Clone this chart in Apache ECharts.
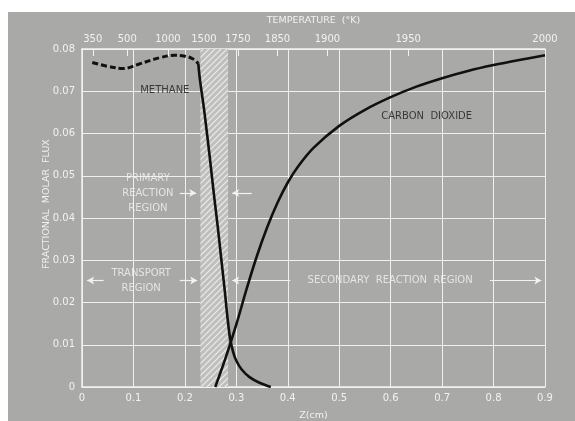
<!DOCTYPE html>
<html><head><meta charset="utf-8">
<script src="https://cdn.jsdelivr.net/npm/echarts@6/dist/echarts.min.js"></script>
<style>html,body{margin:0;padding:0;background:#fff}#c{width:575px;height:421px}</style>
</head><body><div id="c"></div>
<script>
// ---- data ----
const tempLabels = [350, 500, 1000, 1500, 1750, 1850, 1900, 1950, 2000];
const tempPos    = [0.021, 0.088, 0.167, 0.237, 0.303, 0.380, 0.477, 0.634, 0.900];
const methaneDashed = [[0.02,0.0768],[0.05,0.0759],[0.08,0.0754],[0.11,0.0764],[0.15,0.0779],[0.18,0.0785],[0.20,0.0783],[0.215,0.0777],[0.226,0.0766]];
const methaneSolid  = [[0.226,0.0766],[0.229,0.0730],[0.238,0.0650],[0.249,0.0537],[0.256,0.0460],[0.264,0.0378],[0.271,0.0300],[0.278,0.0222],[0.283,0.0162],[0.288,0.0114],[0.294,0.0082],[0.300,0.0062],[0.310,0.0042],[0.325,0.0024],[0.345,0.0010],[0.367,0.0]];
const co2 = [[0.259,0.0],[0.28,0.0072],[0.30,0.0148],[0.32,0.0232],[0.34,0.0310],[0.36,0.0378],[0.38,0.0436],[0.40,0.0484],[0.42,0.0522],[0.45,0.0566],[0.50,0.0618],[0.55,0.0656],[0.60,0.0686],[0.65,0.0711],[0.70,0.0731],[0.75,0.0748],[0.80,0.0762],[0.85,0.0774],[0.90,0.0785]];
const hatchRange = [0.230, 0.284];
// annotation texts: [text, x, y, colour]
const annotTexts = [
  ['METHANE', 0.161, 0.0702, '#1a1a1a'],
  ['CARBON  DIOXIDE', 0.67, 0.0640, '#1a1a1a'],
  ['PRIMARY\nREACTION\nREGION', 0.128, 0.0459, '#f4f4f4'],
  ['TRANSPORT\nREGION', 0.115, 0.0250, '#f4f4f4'],
  ['SECONDARY  REACTION  REGION', 0.599, 0.0252, '#f4f4f4']
];
// arrows: [fromX, toX, y]  (arrowhead at toX)
const annotArrows = [
  [0.190, 0.222, 0.0459],
  [0.330, 0.292, 0.0459],
  [0.042, 0.010, 0.0252],
  [0.190, 0.224, 0.0252],
  [0.405, 0.292, 0.0252],
  [0.793, 0.893, 0.0252]
];

// ---- hatch pattern ----
const pc = document.createElement('canvas');
pc.width = 6; pc.height = 6;
const g = pc.getContext('2d');
g.fillStyle = '#bfbfbd'; g.fillRect(0,0,6,6);
g.strokeStyle = '#ececec'; g.lineWidth = 1.2;
g.beginPath(); g.moveTo(0,6); g.lineTo(6,0); g.moveTo(-3,3); g.lineTo(3,-3); g.moveTo(3,9); g.lineTo(9,3); g.stroke();

const white = '#f2f2f2';
const font = '"DejaVu Sans", sans-serif';
const chart = echarts.init(document.getElementById('c'));
chart.setOption({
  animation: false,
  backgroundColor: '#ffffff',
  graphic: [
    {type:'rect', z:-100, silent:true, shape:{x:8,y:12,width:567,height:409}, style:{fill:'#a9a9a7'}},
    {type:'text', z:10, silent:true, x:47, y:204, rotation:Math.PI/2,
     style:{text:'FRACTIONAL  MOLAR  FLUX', fill:white, font:'9.5px '+font, textAlign:'center', textVerticalAlign:'middle'}}
  ],
  grid: {left:82, right:30, top:49, bottom:34, containLabel:false, outerBoundsMode:'none'},
  xAxis: [
    {type:'value', min:0, max:0.9, interval:0.1, position:'bottom',
     name:'Z(cm)', nameLocation:'middle', nameGap:24,
     nameTextStyle:{color:white, fontSize:9.5, fontFamily:font},
     axisLine:{show:true, lineStyle:{color:white, width:1.5}},
     axisTick:{show:false},
     axisLabel:{color:white, fontSize:10, fontFamily:font, margin:6},
     splitLine:{show:true, lineStyle:{color:'#f0f0f0', width:1}}},
    {type:'value', min:0, max:0.9, position:'top',
     name:'TEMPERATURE  (°K)', nameLocation:'middle', nameGap:23,
     nameTextStyle:{color:white, fontSize:9.5, fontFamily:font},
     axisLine:{show:true, lineStyle:{color:white, width:1.5}},
     axisTick:{show:true, inside:true, length:7, customValues:tempPos, lineStyle:{color:white, width:1}},
     axisLabel:{color:white, fontSize:10, fontFamily:font, margin:5, customValues:tempPos,
       formatter: v => { let bi=0; tempPos.forEach((p,i)=>{ if(Math.abs(p-v)<Math.abs(tempPos[bi]-v)) bi=i; }); return String(tempLabels[bi]); }},
     splitLine:{show:false}}
  ],
  yAxis: {type:'value', min:0, max:0.08, interval:0.01,
    axisLine:{show:true, lineStyle:{color:white, width:1.5}},
    axisTick:{show:false},
    axisLabel:{color:white, fontSize:10, fontFamily:font, margin:7},
    splitLine:{show:true, lineStyle:{color:'#f0f0f0', width:1}}},
  series: [
    {type:'line', data:[], markArea:{silent:true, itemStyle:{color:{image:pc, repeat:'repeat'}},
      data:[[{xAxis:hatchRange[0], yAxis:0},{xAxis:hatchRange[1], yAxis:0.08}]]}},
    {type:'line', data:methaneDashed, smooth:0.4, symbol:'none', z:5,
     lineStyle:{color:'#111', width:3, type:[6,3]}},
    {type:'line', data:methaneSolid, smooth:0.3, symbol:'none', z:5,
     lineStyle:{color:'#111', width:2.6}},
    {type:'line', data:co2, smooth:0.3, symbol:'none', z:5,
     lineStyle:{color:'#111', width:2.6}},
    {type:'scatter', symbolSize:0, z:6,
     data: annotTexts.map(t => ({value:[t[1],t[2]], label:{show:true, formatter:t[0], color:t[3], fontSize:10, fontFamily:font, lineHeight:15, align:'center', verticalAlign:'middle', position:'inside'}})),
     markLine:{silent:true, symbol:['none','arrow'], symbolSize:[6,7], label:{show:false},
       lineStyle:{color:white, width:1.2, type:'solid'},
       data: annotArrows.map(a => [{coord:[a[0],a[2]]},{coord:[a[1],a[2]]}])}}
  ]
});
</script></body></html>
